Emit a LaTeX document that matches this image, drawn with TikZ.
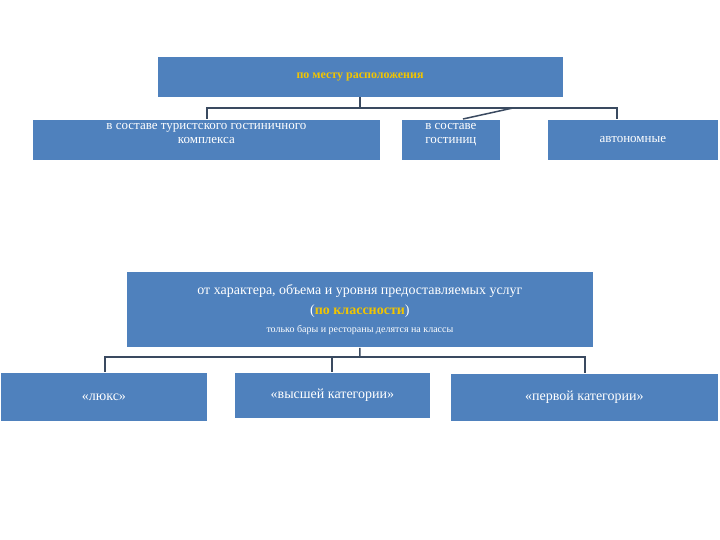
\documentclass[tikz,border=0pt]{standalone}
\usepackage{fontspec}
\setmainfont{Liberation Serif}
\definecolor{boxblue}{HTML}{4F81BD}
\definecolor{gold}{HTML}{F2C500}
\definecolor{linec}{HTML}{3A4A60}
\tikzset{
 bx/.style={fill=boxblue, draw=white, line width=0.8pt, inner sep=2pt, text=white, font=\fontsize{13}{14}\selectfont, align=center},
 conn/.style={draw=linec, line width=1.5pt}
}
\begin{document}
\begin{tikzpicture}[x=1pt,y=-1pt]
\useasboundingbox (0,0) rectangle (720,540);
\node[bx, minimum width=406pt, minimum height=41pt, text=gold, font=\bfseries\fontsize{12}{14}\selectfont] (top) at (360,76.5) {по месту расположения};
\node[bx, minimum width=348pt, minimum height=41pt, anchor=north west, text depth=12pt] (a) at (32,119) {в составе туристского гостиничного\\комплекса};
\node[bx, minimum width=99pt, minimum height=41pt, anchor=north west, text depth=12pt] (b) at (401,119) {в составе\\гостиниц};
\node[bx, minimum width=171pt, minimum height=41pt, anchor=north west] (c) at (547,119) {автономные};
\node[bx, minimum width=467pt, minimum height=76pt, anchor=north west, font=\fontsize{14}{20}\selectfont] (mid) at (126,271) {от характера, объема и уровня предоставляемых услуг\\(\textcolor{gold}{\bfseries по классности})\\[-2pt]{\fontsize{10}{12}\selectfont только бары и рестораны делятся на классы}};
\node[bx, minimum width=207pt, minimum height=49pt, anchor=north west, font=\fontsize{14}{16}\selectfont] (d) at (0,372) {«люкс»};
\node[bx, minimum width=196pt, minimum height=46pt, anchor=north west, font=\fontsize{14}{16}\selectfont] (e) at (234,372) {«высшей категории»};
\node[bx, minimum width=268pt, minimum height=48pt, anchor=north west, font=\fontsize{14}{16}\selectfont] (f) at (450,373) {«первой категории»};
\coordinate (j1) at (360,108);
\draw[conn] (top.south) -- (j1);
\draw[conn] (207,119) -- (207,108) -- (617,108) -- (617,119);
\draw[conn] (j1 -| b.center) ++(62,0) -- (463,119);
\coordinate (j2) at (360,357);
\draw[conn] (mid.south) -- (j2);
\draw[conn] (105,372) -- (105,357) -- (585,357) -- (585,373);
\draw[conn] (332,357) -- (332,372);
\end{tikzpicture}
\end{document}
